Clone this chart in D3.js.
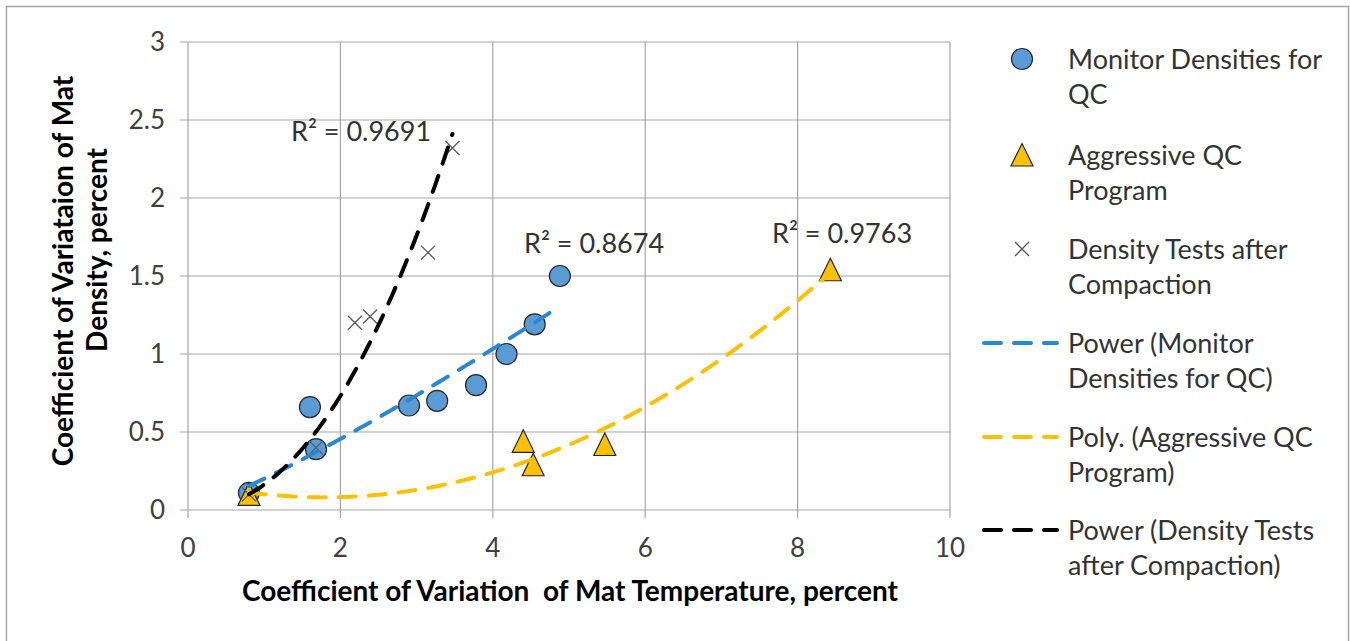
<!DOCTYPE html>
<html lang="en">
<head>
  <meta charset="UTF-8" />
  <title>CV of Mat Density vs CV of Mat Temperature</title>
  <script src="https://cdnjs.cloudflare.com/ajax/libs/d3/7.8.2/d3.min.js"></script>
  <style>
    body {
      margin: 0;
      padding: 0;
      background: #fff;
    }
    svg {
      display: block;
      font-family: Lato, "Open Sans", sans-serif;
    }
    .grid line {
      stroke: #a6a6a6;
      stroke-width: 1.2px;
    }
    .tick-label {
      font-size: 26px;
      fill: #404040;
    }
    .axis-title {
      font-size: 28px;
      font-weight: bold;
      fill: #000;
      white-space: pre;
    }
    .legend text, .r2 {
      font-size: 27px;
      fill: #333;
    }
    .trend {
      fill: none;
      stroke-width: 4px;
      stroke-dasharray: 17 13;
      stroke-linecap: round;
    }
  </style>
</head>
<body>

<svg id="chart" width="1350" height="641"></svg>

<script>
/* -------------------------------------------------------
   DATA
------------------------------------------------------- */
const monitorX = [0.8, 1.6, 1.68, 2.9, 3.27, 3.78, 4.18, 4.55, 4.88];
const monitorY = [0.11, 0.66, 0.39, 0.67, 0.70, 0.80, 1.00, 1.19, 1.50];

const aggressiveX = [0.8, 4.4, 4.53, 5.47, 8.43];
const aggressiveY = [0.10, 0.44, 0.29, 0.42, 1.54];

const densityX = [0.8, 1.68, 2.19, 2.39, 3.15, 3.47];
const densityY = [0.10, 0.40, 1.20, 1.24, 1.65, 2.32];

const xTicks = [0, 2, 4, 6, 8, 10];
const yTicks = [0, 0.5, 1, 1.5, 2, 2.5, 3];

const r2Labels = ["R² = 0.9691", "R² = 0.8674", "R² = 0.9763"];

const legendLabels = [
  ["Monitor Densities for", "QC"],
  ["Aggressive QC", "Program"],
  ["Density Tests after", "Compaction"],
  ["Power (Monitor", "Densities for QC)"],
  ["Poly. (Aggressive QC", "Program)"],
  ["Power (Density Tests", "after Compaction)"]
];

/* -------------------------------------------------------
   SETUP
------------------------------------------------------- */
const svg = d3.select("#chart");
const blue = "#5b9bd5", blueLine = "#2a88d3";
const gold = "#ffc000", goldLine = "#ffc000";
const xGrey = "#595959";

const x = d3.scaleLinear().domain([0, 10]).range([188, 950]);
const y = d3.scaleLinear().domain([0, 3]).range([510, 42]);

// outer frame
svg.append("rect")
  .attr("x", 6.5).attr("y", 6.5)
  .attr("width", 1342).attr("height", 660)
  .attr("fill", "none")
  .attr("stroke", "#a6a6a6")
  .attr("stroke-width", 1.5);

/* -------------------------------------------------------
   GRID + AXES
------------------------------------------------------- */
const grid = svg.append("g").attr("class", "grid");

grid.selectAll(".h").data(yTicks).enter().append("line")
  .attr("x1", x(0) - 8).attr("x2", x(10))
  .attr("y1", d => y(d)).attr("y2", d => y(d));

grid.selectAll(".v").data(xTicks).enter().append("line")
  .attr("x1", d => x(d)).attr("x2", d => x(d))
  .attr("y1", y(3)).attr("y2", y(0) + 8);

svg.selectAll(".ytl").data(yTicks).enter().append("text")
  .attr("class", "tick-label")
  .attr("x", 165)
  .attr("y", d => y(d) + 9)
  .attr("text-anchor", "end")
  .text(d => d);

svg.selectAll(".xtl").data(xTicks).enter().append("text")
  .attr("class", "tick-label")
  .attr("x", d => x(d))
  .attr("y", 557)
  .attr("text-anchor", "middle")
  .text(d => d);

svg.append("text")
  .attr("class", "axis-title")
  .attr("x", 570).attr("y", 601)
  .attr("text-anchor", "middle")
  .text("Coefficient of Variation  of Mat Temperature, percent");

svg.append("text")
  .attr("class", "axis-title")
  .attr("text-anchor", "middle")
  .attr("transform", "translate(73,271) rotate(-90)")
  .text("Coefficient of Variataion of Mat");

svg.append("text")
  .attr("class", "axis-title")
  .attr("text-anchor", "middle")
  .attr("transform", "translate(107,250) rotate(-90)")
  .text("Density, percent");

/* -------------------------------------------------------
   TRENDLINE FITS (same as Excel: power = log-log regression,
   poly = order 2 least squares)
------------------------------------------------------- */
function powerFit(xs, ys) {
  const lx = xs.map(Math.log), ly = ys.map(Math.log);
  const mx = d3.mean(lx), my = d3.mean(ly);
  const b = d3.sum(lx, (v, i) => (v - mx) * (ly[i] - my)) / d3.sum(lx, v => (v - mx) ** 2);
  const a = Math.exp(my - b * mx);
  return t => a * Math.pow(t, b);
}

function polyFit(xs, ys) {
  // normal equations for c0 + c1 x + c2 x^2
  const s = k => d3.sum(xs, v => v ** k);
  const t = k => d3.sum(xs, (v, i) => v ** k * ys[i]);
  const A = [[s(0), s(1), s(2), t(0)], [s(1), s(2), s(3), t(1)], [s(2), s(3), s(4), t(2)]];
  for (let i = 0; i < 3; i++) {
    for (let j = i + 1; j < 3; j++) {
      const f = A[j][i] / A[i][i];
      for (let k = i; k < 4; k++) A[j][k] -= f * A[i][k];
    }
  }
  const c = [0, 0, 0];
  for (let i = 2; i >= 0; i--) {
    let v = A[i][3];
    for (let k = i + 1; k < 3; k++) v -= A[i][k] * c[k];
    c[i] = v / A[i][i];
  }
  return v => c[0] + c[1] * v + c[2] * v * v;
}

function fitPath(fn, xs) {
  const lo = d3.min(xs), hi = d3.max(xs);
  const pts = d3.range(0, 81).map(i => lo + (hi - lo) * i / 80);
  return d3.line().x(d => x(d)).y(d => y(fn(d)))(pts);
}

/* -------------------------------------------------------
   MARKERS
------------------------------------------------------- */
const monitor = monitorX.map((v, i) => ({ x: v, y: monitorY[i] }));
const aggressive = aggressiveX.map((v, i) => ({ x: v, y: aggressiveY[i] }));
const density = densityX.map((v, i) => ({ x: v, y: densityY[i] }));

function drawCircle(g, cx, cy) {
  g.append("circle")
    .attr("cx", cx).attr("cy", cy).attr("r", 10.5)
    .attr("fill", blue).attr("stroke", "#262626").attr("stroke-width", 1.2);
}
function drawTri(g, cx, cy) {
  g.append("path")
    .attr("d", "M0,-11.5L11,11L-11,11Z")
    .attr("transform", `translate(${cx},${cy})`)
    .attr("fill", gold).attr("stroke", "#262626").attr("stroke-width", 1.2);
}
function drawX(g, cx, cy) {
  g.append("path")
    .attr("d", "M-7,-7L7,7M-7,7L7,-7")
    .attr("transform", `translate(${cx},${cy})`)
    .attr("stroke", xGrey).attr("stroke-width", 1.3);
}

const marks = svg.append("g");
monitor.forEach(d => drawCircle(marks, x(d.x), y(d.y)));
aggressive.forEach(d => drawTri(marks, x(d.x), y(d.y)));
density.forEach(d => drawX(marks, x(d.x), y(d.y)));

const trends = svg.append("g");
trends.append("path").attr("class", "trend")
  .attr("stroke", blueLine).attr("d", fitPath(powerFit(monitorX, monitorY), monitorX));
trends.append("path").attr("class", "trend")
  .attr("stroke", goldLine).attr("d", fitPath(polyFit(aggressiveX, aggressiveY), aggressiveX));
trends.append("path").attr("class", "trend")
  .attr("stroke", "#000").attr("d", fitPath(powerFit(densityX, densityY), densityX));

// R² labels
const r2Pos = [[291, 141], [524, 253], [772, 243]];
svg.selectAll(".r2").data(r2Labels).enter().append("text")
  .attr("class", "r2")
  .attr("x", (d, i) => r2Pos[i][0])
  .attr("y", (d, i) => r2Pos[i][1])
  .text(d => d);

/* -------------------------------------------------------
   LEGEND
------------------------------------------------------- */
const legend = svg.append("g").attr("class", "legend");
const legendY = [59, 155, 249, 343, 437, 530];

legendLabels.forEach((lines, i) => {
  const cy = legendY[i];
  if (i === 0) drawCircle(legend, 1022, cy);
  if (i === 1) drawTri(legend, 1022, cy);
  if (i === 2) drawX(legend, 1022, cy);
  if (i >= 3) {
    legend.append("line")
      .attr("class", "trend")
      .attr("x1", 984).attr("x2", 1057)
      .attr("y1", cy).attr("y2", cy)
      .attr("stroke", [blueLine, goldLine, "#000"][i - 3]);
  }
  lines.forEach((t, j) => {
    legend.append("text")
      .attr("x", 1068)
      .attr("y", cy + 10 + j * 35)
      .text(t);
  });
});
</script>

</body>
</html>
